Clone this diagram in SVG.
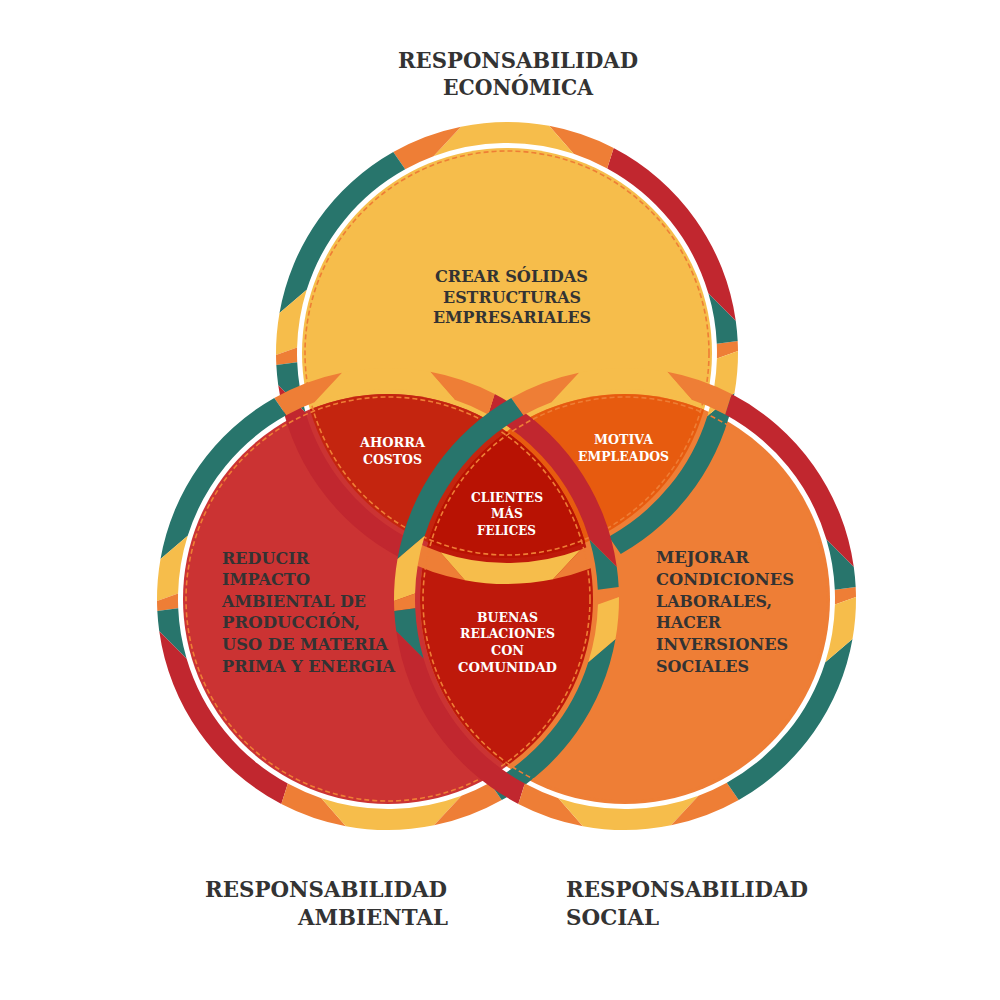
<svg xmlns="http://www.w3.org/2000/svg" xmlns:xlink="http://www.w3.org/1999/xlink" width="1000" height="1000" viewBox="0 0 1000 1000">
<style>
.t{fill:#28756C}.r{fill:#C1272F}.o{fill:#EE7E36}.y{fill:#F6BD4B}
.dash{fill:none;stroke:#EE7E35;stroke-width:1.6;stroke-dasharray:5 3}
.lbl{font-family:"DejaVu Serif","Liberation Serif",serif;font-weight:bold;fill:#333333}
.big{font-size:22px}
.mid{font-size:17px}
.sm{font-size:13px;fill:#FFFFFF}
</style>
<defs>
<g id="half">
<path class="o" d="M231,-2.02 A231,231 0 0 0 230.68,-12.09 L209.8,-9.16 A210,210 0 0 1 209.93,5.5 Z"/>
<path class="t" d="M230.68,-12.09 A231,231 0 0 0 228.75,-32.15 L201.35,-59.64 A210,210 0 0 1 209.8,-9.16 Z"/>
<path class="r" d="M228.75,-32.15 A231,231 0 0 0 106.66,-204.9 L100.2,-184.55 A210,210 0 0 1 201.35,-59.64 Z"/>
<path class="o" d="M106.66,-204.9 A231,231 0 0 0 42.1,-227.13 L66.63,-199.15 A210,210 0 0 1 100.2,-184.55 Z"/>
<path class="y" d="M42.1,-227.13 A231,231 0 0 0 -46.05,-226.36 L-73.54,-196.7 A210,210 0 0 1 66.63,-199.15 Z"/>
<path class="o" d="M-46.05,-226.36 A231,231 0 0 0 -113.75,-201.05 L-101.81,-183.67 A210,210 0 0 1 -73.54,-196.7 Z"/>
<path class="t" d="M-113.75,-201.05 A231,231 0 0 0 -227.49,-40.11 L-200.28,-63.15 A210,210 0 0 1 -101.81,-183.67 Z"/>
<path class="y" d="M-227.49,-40.11 A231,231 0 0 0 -231,2.02 L-209.93,-5.5 A210,210 0 0 1 -200.28,-63.15 Z"/>
</g>
<g id="ring">
<use xlink:href="#half"/>
<use xlink:href="#half" transform="rotate(180)"/>
</g>
<clipPath id="cT"><circle cx="507" cy="353" r="205"/></clipPath>
<clipPath id="cL"><circle cx="388" cy="599" r="205"/></clipPath>
<clipPath id="cR"><circle cx="625" cy="599" r="205"/></clipPath>
</defs>
<rect width="1000" height="1000" fill="#FFFFFF"/>

<g id="disc-economica"><circle cx="507" cy="353" r="205" fill="#F6BD4B"/></g>
<g id="disc-ambiental"><circle cx="388" cy="599" r="205" fill="#CB3333"/></g>
<g id="disc-social"><circle cx="625" cy="599" r="205" fill="#EE7E36"/></g>
<g id="int-ahorra"><circle cx="388" cy="599" r="205" fill="#C4250F" clip-path="url(#cT)"/></g>
<g id="int-motiva"><circle cx="625" cy="599" r="205" fill="#E75B0F" clip-path="url(#cT)"/></g>
<g id="int-buenas"><circle cx="625" cy="599" r="205" fill="#BE190B" clip-path="url(#cL)"/></g>
<g id="int-clientes"><g clip-path="url(#cT)"><circle cx="625" cy="599" r="205" fill="#B81203" clip-path="url(#cL)"/></g></g>

<g id="rings">
<use xlink:href="#ring" transform="translate(507 353)"/>
<circle class="dash" cx="507" cy="353" r="202"/>
<use xlink:href="#ring" transform="translate(388 599)"/>
<circle class="dash" cx="388" cy="599" r="202"/>
<use xlink:href="#ring" transform="translate(625 599)"/>
<circle class="dash" cx="625" cy="599" r="202"/>
</g>

<g id="title-economica" class="lbl big">
<text x="398" y="68" textLength="240" lengthAdjust="spacingAndGlyphs">RESPONSABILIDAD</text>
<text x="443" y="95" textLength="150" lengthAdjust="spacingAndGlyphs">ECONÓMICA</text>
</g>
<g id="title-ambiental" class="lbl big">
<text x="205" y="897" textLength="242" lengthAdjust="spacingAndGlyphs">RESPONSABILIDAD</text>
<text x="298" y="925" textLength="150" lengthAdjust="spacingAndGlyphs">AMBIENTAL</text>
</g>
<g id="title-social" class="lbl big">
<text x="566" y="897" textLength="242" lengthAdjust="spacingAndGlyphs">RESPONSABILIDAD</text>
<text x="566" y="925" textLength="93" lengthAdjust="spacingAndGlyphs">SOCIAL</text>
</g>

<g id="text-economica" class="lbl mid">
<text x="435" y="282" textLength="153" lengthAdjust="spacingAndGlyphs">CREAR SÓLIDAS</text>
<text x="443" y="303" textLength="138" lengthAdjust="spacingAndGlyphs">ESTRUCTURAS</text>
<text x="433" y="323" textLength="158" lengthAdjust="spacingAndGlyphs">EMPRESARIALES</text>
</g>
<g id="text-ambiental" class="lbl mid">
<text x="222" y="564" textLength="87" lengthAdjust="spacingAndGlyphs">REDUCIR</text>
<text x="222" y="585" textLength="88" lengthAdjust="spacingAndGlyphs">IMPACTO</text>
<text x="222" y="607" textLength="144" lengthAdjust="spacingAndGlyphs">AMBIENTAL DE</text>
<text x="222" y="628" textLength="138" lengthAdjust="spacingAndGlyphs">PRODUCCIÓN,</text>
<text x="222" y="650" textLength="166" lengthAdjust="spacingAndGlyphs">USO DE MATERIA</text>
<text x="222" y="672" textLength="173" lengthAdjust="spacingAndGlyphs">PRIMA Y ENERGIA</text>
</g>
<g id="text-social" class="lbl mid">
<text x="656" y="563" textLength="93" lengthAdjust="spacingAndGlyphs">MEJORAR</text>
<text x="656" y="585" textLength="138" lengthAdjust="spacingAndGlyphs">CONDICIONES</text>
<text x="656" y="607" textLength="116" lengthAdjust="spacingAndGlyphs">LABORALES,</text>
<text x="656" y="628" textLength="65" lengthAdjust="spacingAndGlyphs">HACER</text>
<text x="656" y="650" textLength="132" lengthAdjust="spacingAndGlyphs">INVERSIONES</text>
<text x="656" y="672" textLength="93" lengthAdjust="spacingAndGlyphs">SOCIALES</text>
</g>
<g id="text-ahorra" class="lbl sm">
<text x="360" y="447" textLength="65" lengthAdjust="spacingAndGlyphs">AHORRA</text>
<text x="363" y="464" textLength="59" lengthAdjust="spacingAndGlyphs">COSTOS</text>
</g>
<g id="text-motiva" class="lbl sm">
<text x="594" y="444" textLength="59" lengthAdjust="spacingAndGlyphs">MOTIVA</text>
<text x="578" y="461" textLength="91" lengthAdjust="spacingAndGlyphs">EMPLEADOS</text>
</g>
<g id="text-clientes" class="lbl sm">
<text x="471" y="502" textLength="72" lengthAdjust="spacingAndGlyphs">CLIENTES</text>
<text x="491" y="518" textLength="32" lengthAdjust="spacingAndGlyphs">MÁS</text>
<text x="477" y="535" textLength="59" lengthAdjust="spacingAndGlyphs">FELICES</text>
</g>
<g id="text-buenas" class="lbl sm">
<text x="477" y="622" textLength="61" lengthAdjust="spacingAndGlyphs">BUENAS</text>
<text x="460" y="638" textLength="95" lengthAdjust="spacingAndGlyphs">RELACIONES</text>
<text x="491" y="655" textLength="33" lengthAdjust="spacingAndGlyphs">CON</text>
<text x="458" y="672" textLength="99" lengthAdjust="spacingAndGlyphs">COMUNIDAD</text>
</g>
</svg>
